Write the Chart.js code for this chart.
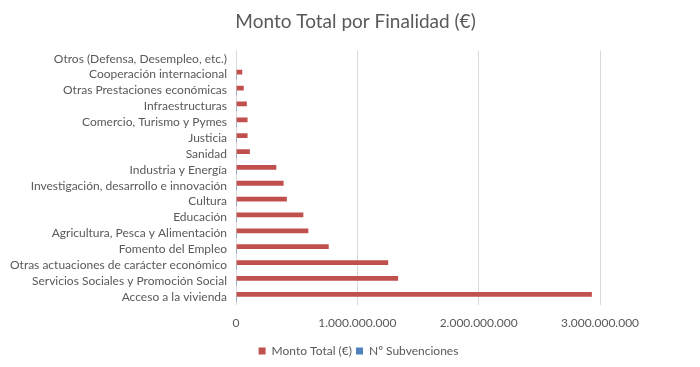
<!DOCTYPE html>
<html>
<head>
<meta charset="utf-8">
<script src="https://cdn.jsdelivr.net/npm/chart.js@4/dist/chart.umd.min.js"></script>
<style>
  html, body { margin: 0; padding: 0; background: #ffffff; }
  #wrap { width: 700px; height: 367px; }
</style>
</head>
<body>
<div id="wrap"><canvas id="montoChart" width="700" height="367"></canvas></div>
<script>
// Categorías (de arriba a abajo, como en el gráfico)
const categorias = [
  'Otros (Defensa, Desempleo, etc.)',
  'Cooperación internacional',
  'Otras Prestaciones económicas',
  'Infraestructuras',
  'Comercio, Turismo y Pymes',
  'Justicia',
  'Sanidad',
  'Industria y Energía',
  'Investigación, desarrollo e innovación',
  'Cultura',
  'Educación',
  'Agricultura, Pesca y Alimentación',
  'Fomento del Empleo',
  'Otras actuaciones de carácter económico',
  'Servicios Sociales y Promoción Social',
  'Acceso a la vivienda'
];

// Monto total en euros (estimado a partir de la imagen)
const montoTotal = [
  0, 51000000, 64000000, 89000000, 95000000, 95000000, 114000000, 332000000,
  392000000, 419000000, 555000000, 596000000, 764000000, 1254000000, 1336000000, 2933000000
];

// Número de subvenciones (no visible a esta escala)
const numSubvenciones = [
  0, 40, 30, 60, 120, 25, 50, 150, 200, 300, 180, 250, 220, 400, 500, 150
];

// Marcas del eje X
const ticksX = [0, 1000000000, 2000000000, 3000000000];

const gris = '#595959';
const fuente = 'Lato, "Liberation Sans", sans-serif';

// Desplaza título y leyenda para centrarlos como en el original
const centrarBloques = {
  id: 'centrarBloques',
  afterLayout(chart) {
    if (chart.titleBlock) {
      chart.titleBlock.left += 55;
      chart.titleBlock.right += 55;
    }
    if (chart.legend) {
      chart.legend.left += 58;
      chart.legend.right += 58;
    }
  }
};

function renderChart() {
  const ctx = document.getElementById('montoChart').getContext('2d');

  new Chart(ctx, {
    type: 'bar',
    data: {
      labels: categorias,
      datasets: [
        {
          label: 'Monto Total (€)',
          data: montoTotal,
          backgroundColor: '#c0504d',
          categoryPercentage: 0.6,
          barPercentage: 1.0
        },
        {
          label: 'Nº Subvenciones',
          data: numSubvenciones,
          backgroundColor: '#4f81bd',
          categoryPercentage: 0.6,
          barPercentage: 1.0
        }
      ]
    },
    options: {
      indexAxis: 'y',
      responsive: false,
      animation: false,
      layout: { padding: { left: 1, right: 100, top: 0, bottom: 0 } },
      scales: {
        x: {
          min: ticksX[0],
          max: ticksX[ticksX.length - 1],
          afterBuildTicks: function(axis) {
            axis.ticks = ticksX.map(v => ({ value: v }));
          },
          grid: { color: '#d9d9d9', drawTicks: false },
          border: { display: false },
          ticks: {
            padding: 11,
            color: gris,
            font: { family: fuente, size: 12 },
            callback: v => v.toLocaleString('de-DE')
          }
        },
        y: {
          grid: { display: false, drawTicks: false },
          border: { display: true, color: '#d9d9d9' },
          ticks: {
            padding: 9,
            color: gris,
            autoSkip: false,
            font: { family: fuente, size: 12 }
          }
        }
      },
      plugins: {
        title: {
          display: true,
          text: 'Monto Total por Finalidad (€)',
          color: gris,
          font: { family: fuente, size: 19, weight: 'normal' },
          padding: { top: 10, bottom: 18 }
        },
        legend: {
          position: 'bottom',
          labels: {
            color: gris,
            boxWidth: 7,
            boxHeight: 7,
            font: { family: fuente, size: 12 },
            padding: 4
          }
        },
        tooltip: { enabled: false }
      }
    },
    plugins: [centrarBloques]
  });
}

document.addEventListener('DOMContentLoaded', function() {
  renderChart();
});
</script>
</body>
</html>
